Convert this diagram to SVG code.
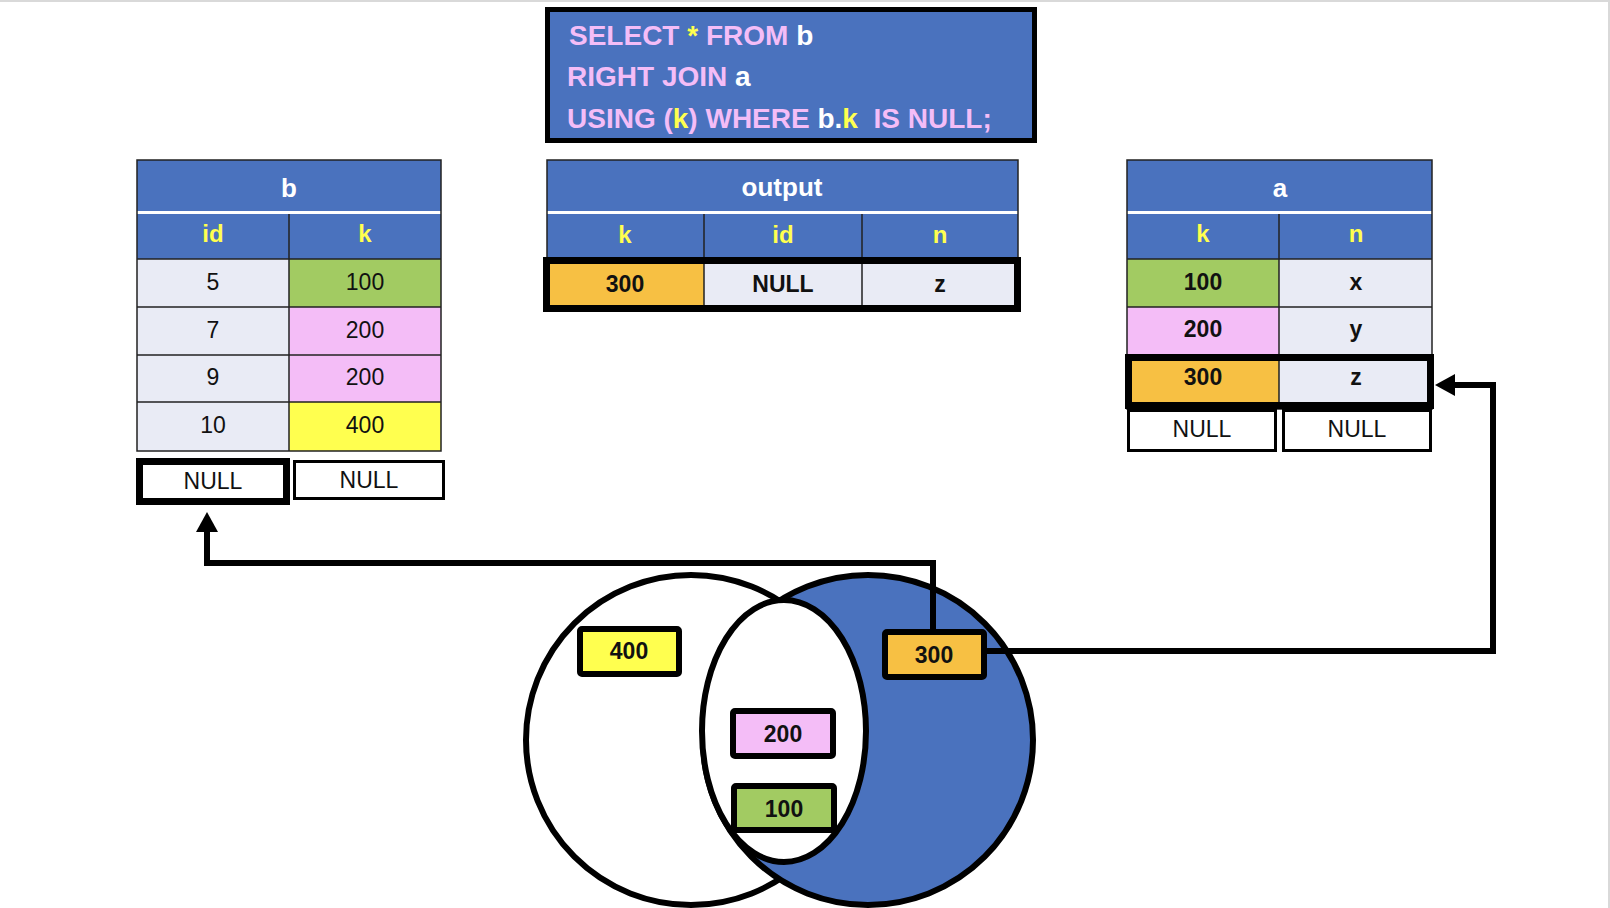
<svg xmlns="http://www.w3.org/2000/svg" width="1610" height="908" viewBox="0 0 1610 908">
<defs>
<style>
text{font-family:"Liberation Sans",Arial,sans-serif;}
.t{font-size:26px;font-weight:bold;fill:#fff;text-anchor:middle;}
.h{font-size:24px;font-weight:bold;fill:#FFFF4F;text-anchor:middle;}
.d{font-size:23px;fill:#111;text-anchor:middle;}
.db{font-size:23px;font-weight:bold;fill:#111;text-anchor:middle;}
.blue{fill:#4A72BE;}
.lt{fill:#E9EBF5;}
.gr{fill:#A2CB62;}
.pk{fill:#F4BDF7;}
.yl{fill:#FFFF4F;}
.or{fill:#F7C043;}
.grid{stroke:#222;stroke-width:1.5;fill:none;}
.thick{stroke:#000;stroke-width:7;fill:none;}
.nb{stroke:#000;stroke-width:3;fill:#fff;}
.vb{stroke:#000;stroke-width:6;}
.sql{font-size:28px;font-weight:bold;white-space:pre;}
.p{fill:#F4BDF7;}
.y{fill:#FFFF4F;}
.w{fill:#fff;}
.conn{stroke:#000;stroke-width:6;fill:none;}
</style>
<marker id="ah" viewBox="0 0 20 22" refX="0" refY="11" markerWidth="20" markerHeight="22" markerUnits="userSpaceOnUse" orient="auto">
<path d="M0,0 L20,11 L0,22 Z" fill="#000"/>
</marker>
</defs>
<rect x="0" y="0" width="1610" height="908" fill="#fff"/>
<line x1="0" y1="1" x2="1610" y2="1" stroke="#d9d9d9" stroke-width="2"/>
<line x1="1609" y1="0" x2="1609" y2="908" stroke="#d9d9d9" stroke-width="2"/>

<g id="sql">
<rect x="547.5" y="9.5" width="487" height="131" class="blue" stroke="#000" stroke-width="5"/>
<text class="sql" x="569" y="45"><tspan class="p">SELECT </tspan><tspan class="y">*</tspan><tspan class="p"> FROM </tspan><tspan class="w">b</tspan></text>
<text class="sql" x="567" y="86"><tspan class="p">RIGHT JOIN </tspan><tspan class="w">a</tspan></text>
<text class="sql" x="567" y="128"><tspan class="p">USING (</tspan><tspan class="y">k</tspan><tspan class="p">) WHERE </tspan><tspan class="w">b.</tspan><tspan class="y">k</tspan><tspan class="p">  IS NULL;</tspan></text>
</g>

<g id="table-b">
<rect x="137" y="160" width="304" height="51" class="blue"/>
<rect x="137" y="214" width="304" height="45" class="blue"/>
<rect x="137" y="259" width="152" height="192" class="lt"/>
<rect x="289" y="259" width="152" height="48" class="gr"/>
<rect x="289" y="307" width="152" height="95" class="pk"/>
<rect x="289" y="402" width="152" height="49" class="yl"/>
<rect x="137" y="160" width="304" height="291" class="grid"/>
<path class="grid" d="M289,214 V451 M137,259 H441 M137,307 H441 M137,355 H441 M137,402 H441"/>
<text class="t" x="289" y="197">b</text>
<text class="h" x="213" y="242">id</text>
<text class="h" x="365" y="242">k</text>
<text class="d" x="213" y="290">5</text>
<text class="d" x="365" y="290">100</text>
<text class="d" x="213" y="338">7</text>
<text class="d" x="365" y="338">200</text>
<text class="d" x="213" y="385">9</text>
<text class="d" x="365" y="385">200</text>
<text class="d" x="213" y="433">10</text>
<text class="d" x="365" y="433">400</text>
<rect x="139.5" y="461.5" width="147" height="40" fill="#fff" class="thick"/>
<text class="d" x="213" y="489">NULL</text>
<rect x="294.5" y="461.5" width="149" height="37" class="nb"/>
<text class="d" x="369" y="488">NULL</text>
</g>

<g id="table-output">
<rect x="547" y="160" width="471" height="51" class="blue"/>
<rect x="547" y="214" width="471" height="43" class="blue"/>
<rect x="547" y="257" width="157" height="52" class="or"/>
<rect x="704" y="257" width="314" height="52" class="lt"/>
<rect x="547" y="160" width="471" height="149" class="grid"/>
<path class="grid" d="M704,214 V309 M862,214 V309"/>
<rect x="546.5" y="260.5" width="471" height="48" class="thick"/>
<text class="t" x="782" y="196">output</text>
<text class="h" x="625" y="243">k</text>
<text class="h" x="783" y="243">id</text>
<text class="h" x="940" y="243">n</text>
<text class="db" x="625" y="292">300</text>
<text class="db" x="783" y="292">NULL</text>
<text class="db" x="940" y="292">z</text>
</g>

<g id="table-a">
<rect x="1127" y="160" width="305" height="51" class="blue"/>
<rect x="1127" y="214" width="305" height="45" class="blue"/>
<rect x="1127" y="259" width="152" height="48" class="gr"/>
<rect x="1127" y="307" width="152" height="47" class="pk"/>
<rect x="1127" y="354" width="152" height="55" class="or"/>
<rect x="1279" y="259" width="153" height="150" class="lt"/>
<rect x="1127" y="160" width="305" height="249" class="grid"/>
<path class="grid" d="M1279,214 V409 M1127,259 H1432 M1127,307 H1432"/>
<rect x="1128.5" y="357.5" width="302" height="48" class="thick"/>
<text class="t" x="1280" y="197">a</text>
<text class="h" x="1203" y="242">k</text>
<text class="h" x="1356" y="242">n</text>
<text class="db" x="1203" y="290">100</text>
<text class="db" x="1356" y="290">x</text>
<text class="db" x="1203" y="337">200</text>
<text class="db" x="1356" y="337">y</text>
<text class="db" x="1203" y="385">300</text>
<text class="db" x="1356" y="385">z</text>
<rect x="1128.5" y="410.5" width="147" height="40" class="nb"/>
<text class="d" x="1202" y="437">NULL</text>
<rect x="1283.5" y="410.5" width="147" height="40" class="nb"/>
<text class="d" x="1357" y="437">NULL</text>
</g>

<g id="venn">
<circle cx="691" cy="740" r="165" fill="#fff" class="vb"/>
<circle cx="868" cy="740" r="165" fill="#4A72BE" class="vb"/>
<ellipse cx="784" cy="731" rx="82" ry="131" fill="#fff" class="vb"/>
</g>

<g id="connectors">
<polyline class="conn" points="933,632 933,563 207,563 207,532" marker-end="url(#ah)"/>
<polyline class="conn" points="985,651 1493,651 1493,385 1455,385" marker-end="url(#ah)"/>
</g>

<g id="v400">
<rect x="580" y="629" width="99" height="45" rx="2" class="yl vb"/>
<text class="db" x="629" y="659">400</text>
</g>
<g id="v300">
<rect x="885" y="632" width="99" height="45" rx="2" class="or vb"/>
<text class="db" x="934" y="663">300</text>
</g>
<g id="v200">
<rect x="733" y="711" width="100" height="45" rx="2" class="pk vb"/>
<text class="db" x="783" y="742">200</text>
</g>
<g id="v100">
<rect x="734" y="786" width="100" height="44" rx="2" class="gr vb"/>
<text class="db" x="784" y="817">100</text>
</g>
</svg>
